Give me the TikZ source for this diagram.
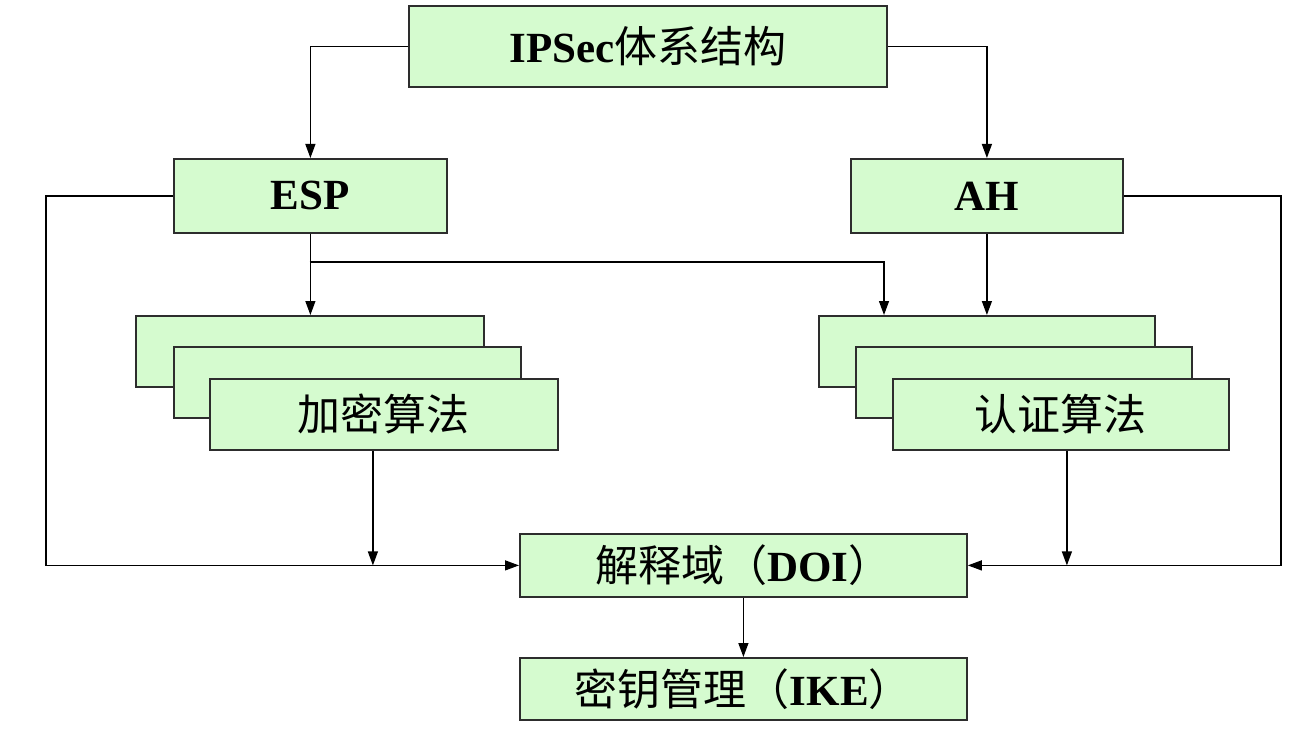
\documentclass[tikz,border=0pt]{standalone}
\usepackage{fontspec}
\setmainfont{Liberation Serif}
\newfontfamily\cjk{Noto Sans CJK SC}
\usetikzlibrary{arrows.meta,calc}
\definecolor{boxfill}{RGB}{213,251,207}
\definecolor{boxline}{RGB}{45,45,45}
\newcommand{\zh}[1]{{\cjk\mdseries #1}}
\tikzset{
  box/.style={draw=boxline, line width=1.8pt, fill=boxfill, inner sep=0pt, anchor=north west,
    font=\fontsize{43}{48}\selectfont\bfseries},
  arr/.style={draw=black, line width=1.3pt, -{Triangle[length=14pt,width=10pt]}},
  ln/.style={draw=black, line width=1.3pt}
}
\begin{document}
\begin{tikzpicture}[x=1pt,y=-1pt]
\useasboundingbox (0,0) rectangle (1298,730);
% boxes
\node[box, minimum width=478pt, minimum height=81pt] (ipsec) at (408,5) {IPSec\zh{体系结构}};
\node[box, minimum width=273pt, minimum height=74pt] (esp) at (173,158) {ESP};
\node[box, minimum width=272pt, minimum height=74pt] (ah) at (850,158) {AH};
\node[box, minimum width=348pt, minimum height=71pt] (e1) at (135,315) {};
\node[box, minimum width=347pt, minimum height=71pt] (e2) at (173,346) {};
\node[box, minimum width=348pt, minimum height=71pt] (e3) at (209,378) {\zh{加密算法}};
\node[box, minimum width=336pt, minimum height=71pt] (a1) at (818,315) {};
\node[box, minimum width=336pt, minimum height=71pt] (a2) at (855,346) {};
\node[box, minimum width=336pt, minimum height=71pt] (a3) at (892,378) {\zh{认证算法}};
\node[box, minimum width=447pt, minimum height=63pt] (doi) at (519,533) {\zh{解释域（}DOI\zh{）}};
\node[box, minimum width=447pt, minimum height=62pt] (ike) at (519,657) {\zh{密钥管理（}IKE\zh{）}};
% helper coordinates
\coordinate (lft) at (46,0);
\coordinate (rgt) at (1281,0);
\coordinate (j) at (309.5,262);
\coordinate (a1in) at ($(a1.north west)+(66,0)$);
\coordinate (e3out) at ($(e3.south)+(-11,0)$);
\coordinate (a3out) at ($(a3.south)+(6,0)$);
% connectors
\draw[arr] (ipsec.west) -| (esp.north);
\draw[arr] (ipsec.east) -| (ah.north);
\draw[arr] (esp.west) -| (lft |- doi.west) -- (doi.west);
\draw[arr] (ah.east) -| (rgt |- doi.east) -- (doi.east);
\draw[arr] (esp.south) -- (esp.south |- e1.north);
\draw[arr] (j) -| (a1in);
\draw[arr] (ah.south) -- (ah.south |- a1.north);
\draw[arr] (e3out) -- (e3out |- doi.west);
\draw[arr] (a3out) -- (a3out |- doi.east);
\draw[arr] (doi.south) -- (ike.north);
\end{tikzpicture}
\end{document}
